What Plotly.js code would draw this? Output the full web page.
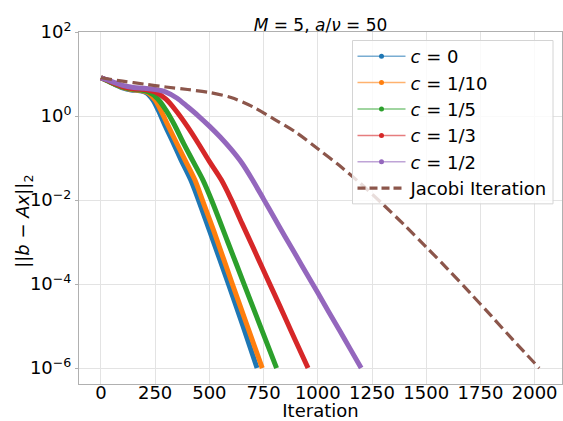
<!DOCTYPE html>
<html>
<head>
<meta charset="utf-8">
<script src="https://cdn.plot.ly/plotly-3.0.1.min.js"></script>
<style>html,body{margin:0;padding:0;background:#fff;}#chart{width:563px;height:421px;}</style>
</head>
<body>
<div id="chart"></div>
<script>
// ---- data ----
const seriesNames = ['<i>c</i> = 0', '<i>c</i> = 1/10', '<i>c</i> = 1/5', '<i>c</i> = 1/3', '<i>c</i> = 1/2'];
const jacobiName = 'Jacobi Iteration';

const iterC0 = [0,30,60,100,140,180,210,240,265,295,330,370,414,450,500,588,655,720];
const resC0  = [8.13,6.92,5.75,4.68,4.17,3.98,3.55,2.40,1.35,0.603,0.251,0.0891,0.0302,0.0100,1.91e-3,1.00e-4,1.00e-5,1.00e-6];

const iterC1 = [0,30,60,100,140,180,215,250,277,309,345,388,433,468,520,606,675,744];
const resC1  = [8.13,6.92,5.89,4.79,4.27,4.07,3.63,2.40,1.35,0.603,0.251,0.0891,0.0302,0.0100,1.86e-3,1.00e-4,1.00e-5,1.00e-6];

const iterC2 = [0,30,60,100,140,180,220,260,300,340,380,425,470,510,585,660,735,810];
const resC2  = [8.13,6.92,5.89,4.90,4.37,4.17,3.72,2.63,1.38,0.603,0.229,0.0832,0.0302,0.0100,1.00e-3,1.00e-4,1.00e-5,1.00e-6];

const iterC3 = [0,30,60,100,150,200,250,300,350,400,450,500,555,600,650,700,750,800,850,900,955];
const resC3  = [8.13,7.08,6.03,5.01,4.47,4.27,3.72,2.51,1.26,0.550,0.219,0.0832,0.0302,0.0105,2.82e-3,7.76e-4,2.09e-4,5.75e-5,1.55e-5,4.17e-6,1.00e-6];

const iterC4 = [0,30,60,100,150,200,250,300,350,400,450,500,550,600,650,700,750,800,850,900,950,1000,1050,1100,1150,1200];
const resC4  = [8.13,7.24,6.31,5.37,4.79,4.57,4.27,3.72,2.69,1.66,1.00,0.575,0.316,0.162,0.0759,0.0295,0.0105,3.72e-3,1.32e-3,4.79e-4,1.70e-4,6.17e-5,2.19e-5,7.94e-6,2.82e-6,1.00e-6];

const iterJac = [0,100,200,300,400,500,600,700,800,900,1000,1100,1200,1300,1400,1500,1600,1700,1800,1900,2021];
const resJac  = [8.13,6.76,5.75,4.90,4.27,3.63,2.75,1.66,0.832,0.407,0.166,0.0661,0.0240,7.94e-3,2.51e-3,7.59e-4,2.24e-4,6.31e-5,1.74e-5,4.68e-6,1.00e-6];

const xTickVals = [0,250,500,750,1000,1250,1500,1750,2000];
const yTickVals = [1e-6,1e-4,1e-2,1,1e2];
const yTickText = ['10<sup>\u22126</sup>','10<sup>\u22124</sup>','10<sup>\u22122</sup>','10<sup>0</sup>','10<sup>2</sup>'];

// ---- styling ----
const colors = ['#1f77b4','#ff7f0e','#2ca02c','#d62728','#9467bd'];
const lightColors = ['rgba(31,119,180,0.6)','rgba(255,127,14,0.6)','rgba(44,160,44,0.6)','rgba(214,39,40,0.6)','rgba(148,103,189,0.6)'];
const jacColor = '#8c564b';
const FONT = 'DejaVu Sans, sans-serif';

const iters = [iterC0, iterC1, iterC2, iterC3, iterC4];
const res = [resC0, resC1, resC2, resC3, resC4];

const traces = [];
for (let i = 0; i < 5; i++) {
  traces.push({
    x: iters[i], y: res[i], type: 'scatter', mode: 'lines',
    line: {color: colors[i], width: 5, shape: 'spline', smoothing: 0.9},
    showlegend: false, hoverinfo: 'skip'
  });
}
traces.push({
  x: iterJac, y: resJac, type: 'scatter', mode: 'lines',
  line: {color: jacColor, width: 3.2, dash: '11px,5px', shape: 'spline', smoothing: 0.9},
  showlegend: false, hoverinfo: 'skip'
});
// legend entries (thin line + dot, as in the reference legend)
for (let i = 0; i < 5; i++) {
  traces.push({
    x: [null], y: [null], type: 'scatter', mode: 'lines+markers', name: seriesNames[i],
    legendgroup: 'g' + i,
    line: {color: lightColors[i], width: 1.5},
    marker: {color: colors[i], size: 5}
  });
}
traces.push({
  x: [null], y: [null], type: 'scatter', mode: 'lines', name: jacobiName,
  legendgroup: 'gj',
  line: {color: jacColor, width: 3.2, dash: '8px,4px'}
});

// pixel -> paper helpers for the frame/legend placement
const PL = 79, PR = 562, PT = 32, PB = 384.3;
const px = v => (v - PL) / (PR - PL);
const py = v => (PB - v) / (PB - PT);

const layout = {
  width: 563, height: 421,
  margin: {l: PL, r: 563 - PR, t: PT, b: 421 - PB, pad: 0},
  paper_bgcolor: '#ffffff', plot_bgcolor: '#ffffff',
  font: {family: FONT, size: 18, color: '#000'},
  title: {
    text: '<i>M</i> = 5, <i>a</i>/<i>\u03bd</i> = 50',
    font: {family: FONT, size: 17, color: '#000'},
    x: 320.5/563, xref: 'container', xanchor: 'center',
    y: 1 - 25.5/421, yref: 'container', yanchor: 'middle'
  },
  xaxis: {
    range: [-101, 2126], tickvals: xTickVals, ticktext: xTickVals.map(String),
    showgrid: true, gridcolor: '#e3e3e3', gridwidth: 1,
    zeroline: false, showline: true, mirror: true, linecolor: '#b0b0b0', linewidth: 1,
    ticks: '', ticklabelstandoff: -8, tickfont: {family: FONT, size: 18, color: '#000'},
    title: {text: 'Iteration', font: {family: FONT, size: 18, color: '#000'}, standoff: 0},
    automargin: false
  },
  yaxis: {
    type: 'log', range: [-6.38, 2], tickvals: yTickVals, ticktext: yTickText,
    showgrid: true, gridcolor: '#e3e3e3', gridwidth: 1,
    zeroline: false, showline: true, mirror: true, linecolor: '#b0b0b0', linewidth: 1,
    ticks: 'outside', ticklen: 3, tickcolor: '#b0b0b0',
    tickfont: {family: FONT, size: 18, color: '#000'},
    automargin: false
  },
  annotations: [{
    text: '||<i>b</i> \u2212 <i>Ax</i>||<sub>2</sub>', textangle: -90,
    xref: 'paper', yref: 'paper', x: px(24), y: py(222),
    xanchor: 'center', yanchor: 'middle', showarrow: false,
    font: {family: FONT, size: 18, color: '#000'}
  }],
  shapes: [{
    type: 'rect', xref: 'paper', yref: 'paper',
    x0: px(352.5), x1: px(553), y0: py(40.5), y1: py(204),
    fillcolor: 'rgba(255,255,255,0.8)', line: {color: '#d4d4d4', width: 1}, layer: 'above'
  }],
  legend: {
    x: px(352.5), y: py(38), xanchor: 'left', yanchor: 'top',
    bgcolor: 'rgba(0,0,0,0)', borderwidth: 0, itemwidth: 48,
    font: {family: FONT, size: 18, color: '#000'},
    tracegroupgap: 0
  },
  showlegend: true
};

Plotly.newPlot('chart', traces, layout, {displayModeBar: false, staticPlot: true});
</script>
</body>
</html>
